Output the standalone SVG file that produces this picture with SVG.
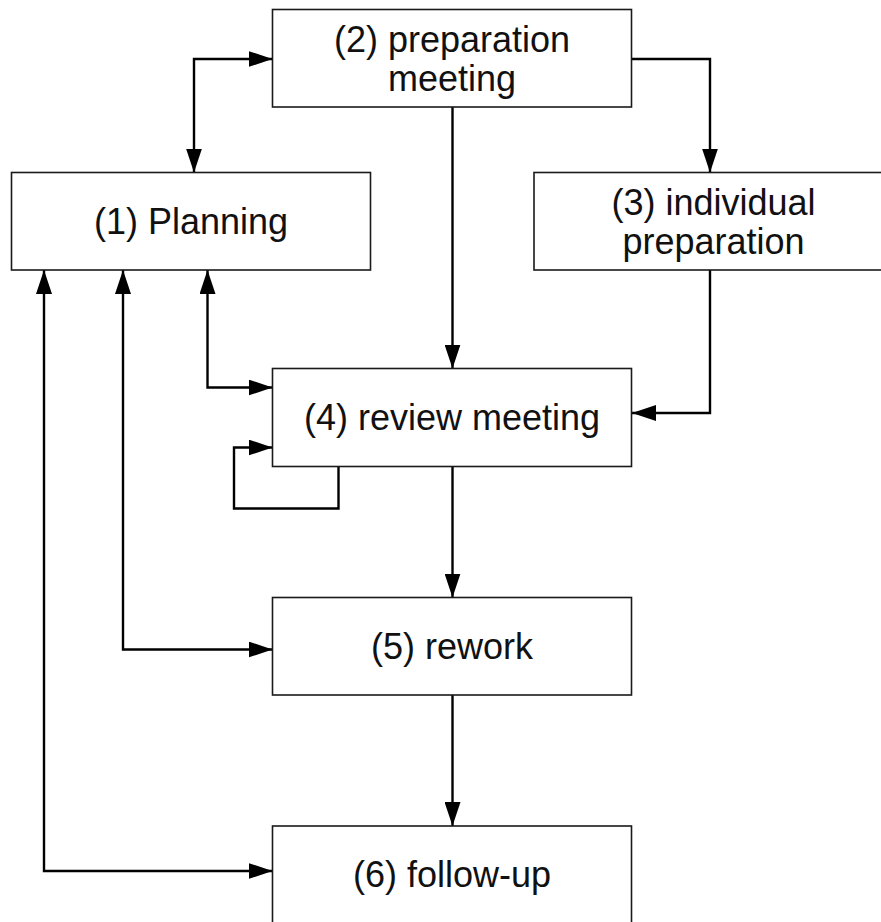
<svg xmlns="http://www.w3.org/2000/svg" width="881" height="922" viewBox="0 0 881 922">
  <style>
    .box { fill: #ffffff; stroke: #1a1a1a; stroke-width: 1.6; }
    .lbl { font-family: "Liberation Sans", Arial, sans-serif; font-size: 36px; fill: #111111; text-anchor: middle; }
    .wire { fill: none; stroke: #000000; stroke-width: 2.4; }
    .end { marker-end: url(#head); }
    .both { marker-start: url(#head); marker-end: url(#head); }
  </style>
  <defs>
    <marker id="head" viewBox="0 0 24 16" refX="24" refY="8" markerWidth="24" markerHeight="16" markerUnits="userSpaceOnUse" orient="auto-start-reverse">
      <path d="M0,0 L24,8 L0,16 Z" fill="#000000"/>
    </marker>
  </defs>
  <rect x="0" y="0" width="881" height="922" fill="#ffffff"/>

  <g id="connectors">
    <!-- (1) <-> (2) -->
    <path class="wire both" d="M194,172.5 L194,59 L272.5,59"/>
    <!-- (2) -> (3) -->
    <path class="wire end" d="M631.5,59 L710,59 L710,172.5"/>
    <!-- (2) -> (4) -->
    <path class="wire end" d="M452.5,107 L452.5,368.5"/>
    <!-- (3) -> (4) -->
    <path class="wire end" d="M710,270 L710,413 L632,413"/>
    <!-- (1) <-> (4) -->
    <path class="wire both" d="M207.5,270 L207.5,387.5 L272.5,387.5"/>
    <!-- (4) self loop -->
    <path class="wire end" d="M338.5,466.5 L338.5,508.5 L234,508.5 L234,447.5 L272.5,447.5"/>
    <!-- (4) -> (5) -->
    <path class="wire end" d="M452.5,466.5 L452.5,597.5"/>
    <!-- (1) <-> (5) -->
    <path class="wire both" d="M123,270 L123,649.5 L272.5,649.5"/>
    <!-- (5) -> (6) -->
    <path class="wire end" d="M452.5,695 L452.5,826"/>
    <!-- (1) <-> (6) -->
    <path class="wire both" d="M44,270 L44,871 L272.5,871"/>
  </g>

  <g id="node-1">
    <rect class="box" x="11.5" y="172.5" width="359" height="97.5"/>
    <text class="lbl" x="191" y="234">(1) Planning</text>
  </g>
  <g id="node-2">
    <rect class="box" x="272.5" y="9.5" width="359" height="97.5"/>
    <text class="lbl" x="452" y="52">(2) preparation</text>
    <text class="lbl" x="452" y="91">meeting</text>
  </g>
  <g id="node-3">
    <rect class="box" x="534" y="172.5" width="359" height="97.5"/>
    <text class="lbl" x="713.5" y="215">(3) individual</text>
    <text class="lbl" x="713.5" y="254">preparation</text>
  </g>
  <g id="node-4">
    <rect class="box" x="272.5" y="368.5" width="359" height="98"/>
    <text class="lbl" x="452" y="430">(4) review meeting</text>
  </g>
  <g id="node-5">
    <rect class="box" x="272.5" y="597.5" width="359" height="97.5"/>
    <text class="lbl" x="452" y="659">(5) rework</text>
  </g>
  <g id="node-6">
    <rect class="box" x="272.5" y="826" width="359" height="97.5"/>
    <text class="lbl" x="452" y="887">(6) follow-up</text>
  </g>
</svg>
